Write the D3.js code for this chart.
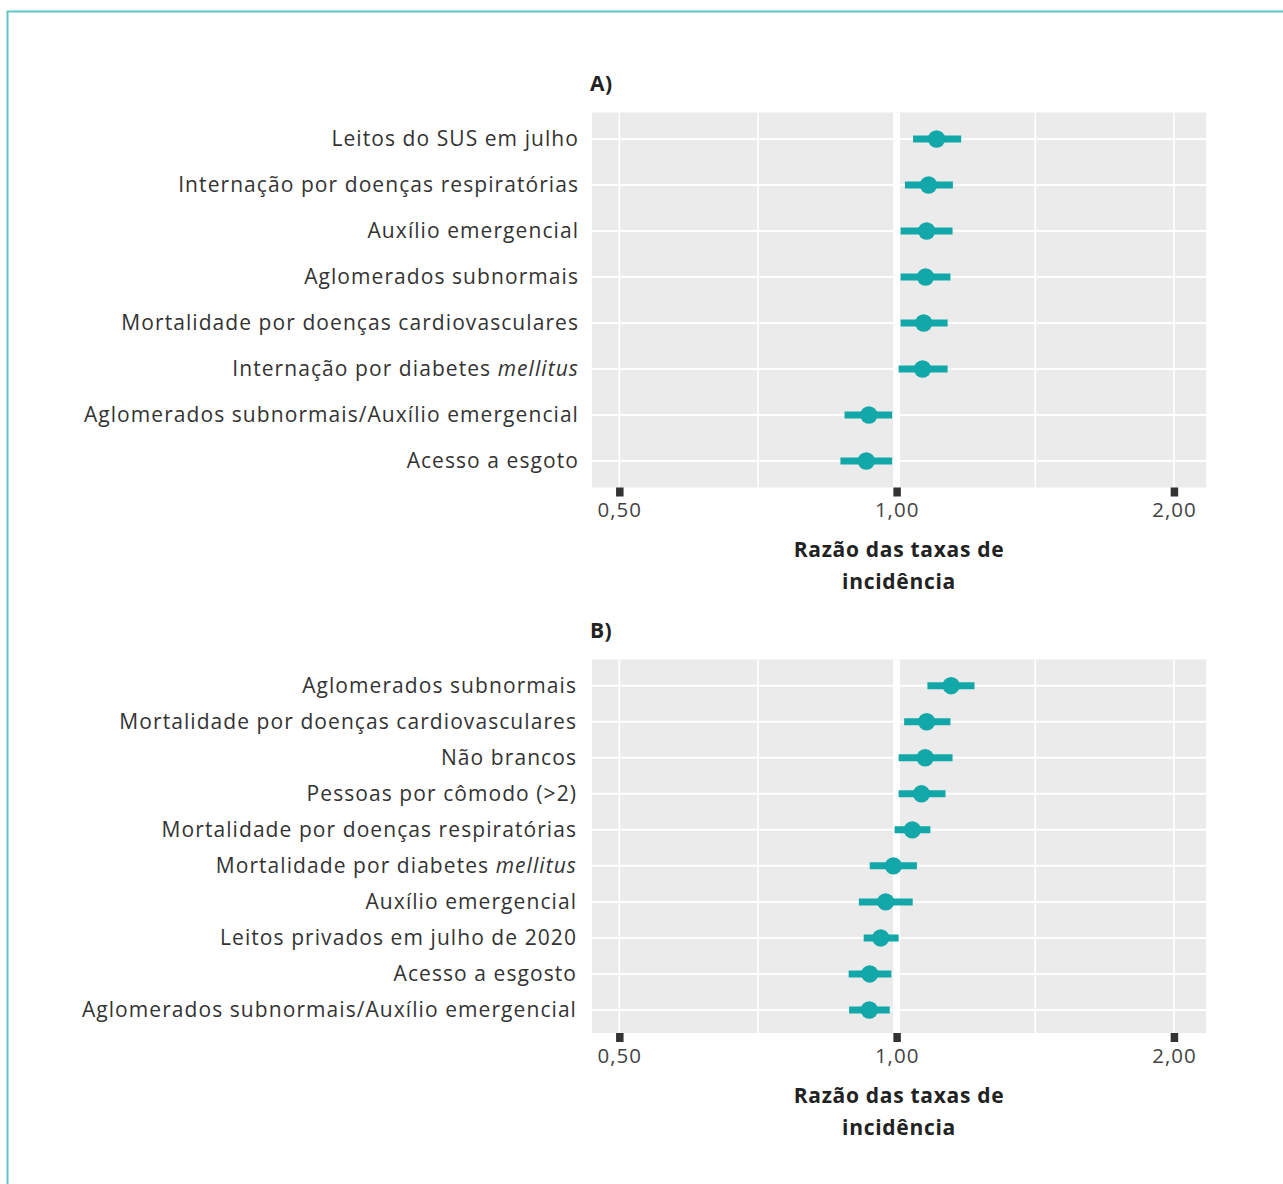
<!DOCTYPE html>
<html>
<head>
<meta charset="utf-8">
<script src="https://cdn.jsdelivr.net/npm/d3@7"></script>
<style>
  body { margin: 0; background: #fff; }
  svg { display: block; font-family: "Open Sans", "Noto Sans", sans-serif; }
</style>
</head>
<body>
<svg id="chart" width="1283" height="1184"></svg>
<script>
// panel A
const labelsA = [
  "Leitos do SUS em julho",
  "Internação por doenças respiratórias",
  "Auxílio emergencial",
  "Aglomerados subnormais",
  "Mortalidade por doenças cardiovasculares",
  "Internação por diabetes |mellitus",
  "Aglomerados subnormais/Auxílio emergencial",
  "Acesso a esgoto"
];
const estA = [1.105, 1.083, 1.078, 1.075, 1.070, 1.067, 0.933, 0.927];
const lowA = [1.042, 1.021, 1.010, 1.010, 1.010, 1.005, 0.878, 0.869];
const highA = [1.175, 1.151, 1.150, 1.144, 1.136, 1.136, 0.989, 0.989];

// panel B
const labelsB = [
  "Aglomerados subnormais",
  "Mortalidade por doenças cardiovasculares",
  "Não brancos",
  "Pessoas por cômodo (>2)",
  "Mortalidade por doenças respiratórias",
  "Mortalidade por diabetes |mellitus",
  "Auxílio emergencial",
  "Leitos privados em julho de 2020",
  "Acesso a esgosto",
  "Aglomerados subnormais/Auxílio emergencial"
];
const estB = [1.146, 1.078, 1.074, 1.064, 1.040, 0.992, 0.973, 0.961, 0.935, 0.934];
const lowB = [1.080, 1.019, 1.005, 1.005, 0.995, 0.935, 0.910, 0.921, 0.887, 0.888];
const highB = [1.215, 1.144, 1.150, 1.130, 1.088, 1.052, 1.041, 1.005, 0.987, 0.983];

const tickValues = [0.5, 1, 2];
const minorTicks = [Math.SQRT1_2, Math.SQRT2];
const xDomain = [0.467, 2.167];
const axisTitle = ["Razão das taxas de", "incidência"];

const teal = "#12a7a8";
const svg = d3.select("#chart");

svg.append("rect")
  .attr("x", 7.5).attr("y", 11.5)
  .attr("width", 1300).attr("height", 1200)
  .attr("fill", "none")
  .attr("stroke", "#62c6c6")
  .attr("stroke-width", 2);

function panel(cfg) {
  const g = svg.append("g");
  const left = 592, right = 1206;
  const x = d3.scaleLog().domain(xDomain).range([left, right]);
  const y = d3.scalePoint().domain(cfg.labels).range(cfg.rows);

  g.append("text")
    .attr("x", 590).attr("y", cfg.top - 29)
    .attr("dy", "0.35em")
    .attr("font-size", 21).attr("font-weight", 700).attr("fill", "#222")
    .attr("letter-spacing", 0.5)
    .text(cfg.title);

  g.append("rect")
    .attr("x", left).attr("y", cfg.top)
    .attr("width", right - left).attr("height", cfg.bottom - cfg.top)
    .attr("fill", "#ebebeb");

  g.append("g").selectAll("line")
    .data(cfg.labels).join("line")
    .attr("x1", left).attr("x2", right)
    .attr("y1", d => y(d)).attr("y2", d => y(d))
    .attr("stroke", "#fff").attr("stroke-width", 2);

  g.append("g").selectAll("line")
    .data(tickValues.concat(minorTicks)).join("line")
    .attr("x1", d => x(d)).attr("x2", d => x(d))
    .attr("y1", cfg.top).attr("y2", cfg.bottom)
    .attr("stroke", "#fff").attr("stroke-width", 1.6);

  g.append("line")
    .attr("x1", x(1)).attr("x2", x(1))
    .attr("y1", cfg.top).attr("y2", cfg.bottom)
    .attr("stroke", "#fff").attr("stroke-width", 7);

  const rows = cfg.labels.map((l, i) => ({ label: l, est: cfg.est[i], low: cfg.low[i], high: cfg.high[i] }));

  g.append("g").selectAll("line")
    .data(rows).join("line")
    .attr("x1", d => x(d.low)).attr("x2", d => x(d.high))
    .attr("y1", d => y(d.label)).attr("y2", d => y(d.label))
    .attr("stroke", teal).attr("stroke-width", 7);

  g.append("g").selectAll("circle")
    .data(rows).join("circle")
    .attr("cx", d => x(d.est)).attr("cy", d => y(d.label))
    .attr("r", 8.7).attr("fill", teal);

  // labels, "|" marks the start of the italic part
  const lab = g.append("g").selectAll("text")
    .data(cfg.labels).join("text")
    .attr("x", cfg.labelX).attr("y", d => y(d))
    .attr("dy", "0.35em")
    .attr("text-anchor", "end")
    .attr("font-size", 21).attr("fill", "#333")
    .attr("letter-spacing", 1.07);
  lab.each(function (d) {
    const parts = d.split("|");
    const t = d3.select(this);
    t.append("tspan").text(parts[0]);
    if (parts[1]) t.append("tspan").attr("font-style", "italic").text(parts[1]);
  });

  const axis = d3.axisBottom(x)
    .tickValues(tickValues)
    .tickSize(9)
    .tickPadding(6)
    .tickFormat(d => d3.format(".2f")(d).replace(".", ","));
  const ax = g.append("g")
    .attr("transform", `translate(0,${cfg.bottom})`)
    .call(axis);
  ax.select(".domain").remove();
  ax.selectAll(".tick line").attr("stroke", "#333").attr("stroke-width", 7.5);
  ax.selectAll(".tick text")
    .attr("font-size", 20.5).attr("fill", "#444")
    .attr("letter-spacing", 1)
    .attr("font-family", "'Open Sans', 'Noto Sans', sans-serif");

  g.append("g").selectAll("text")
    .data(axisTitle).join("text")
    .attr("x", (left + right) / 2)
    .attr("y", (d, i) => cfg.bottom + 62.5 + i * 32)
    .attr("dy", "0.35em")
    .attr("text-anchor", "middle")
    .attr("font-size", 21).attr("font-weight", 700).attr("fill", "#222")
    .attr("letter-spacing", 0.7)
    .text(d => d);
}

panel({ title: "A)", labels: labelsA, est: estA, low: lowA, high: highA,
  top: 112.5, bottom: 487.5, rows: [139, 461], labelX: 579 });
panel({ title: "B)", labels: labelsB, est: estB, low: lowB, high: highB,
  top: 659.5, bottom: 1033, rows: [685.7, 1010], labelX: 577 });
</script>
</body>
</html>
